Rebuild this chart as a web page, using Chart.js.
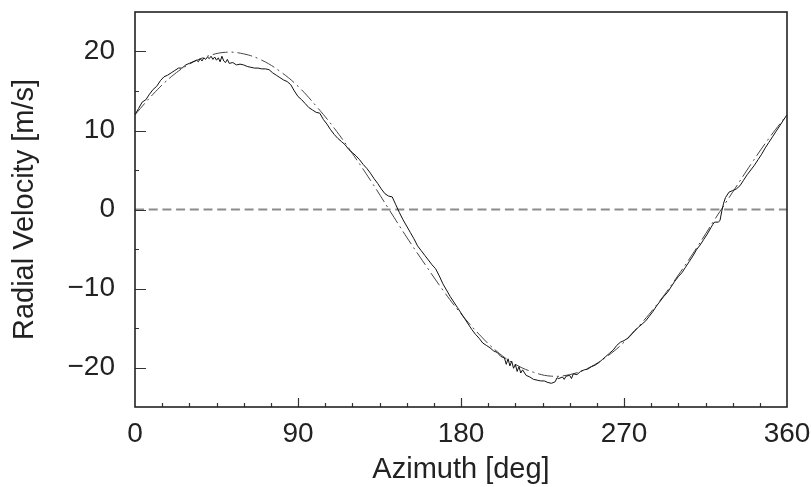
<!DOCTYPE html>
<html>
<head>
<meta charset="utf-8">
<script src="https://cdn.jsdelivr.net/npm/chart.js@4.4.0/dist/chart.umd.min.js"></script>
<style>
  html, body { margin: 0; padding: 0; background: #fff; }
  canvas { display: block; }
</style>
</head>
<body>
<canvas id="grafico" width="811" height="487"></canvas>
<script>
// Datos medidos: azimut [deg] y velocidad radial [m/s]
const azMedido = [
  0, 2, 4, 6, 8, 10, 12, 14, 16, 18,
  20, 22, 24, 26, 28, 30, 32, 34, 35, 36,
  37, 38, 39, 40, 41, 42, 43, 44, 45, 46,
  47, 48, 49, 50, 51, 52, 54, 56, 58, 60,
  62, 64, 66, 68, 70, 72, 74, 76, 78, 80,
  82, 84, 86, 88, 90, 92, 94, 96, 98, 100,
  102, 104, 106, 108, 110, 112, 114, 116, 118, 120,
  122, 124, 126, 128, 130, 132, 134, 136, 138, 140,
  142, 144, 146, 148, 150, 152, 154, 156, 158, 160,
  162, 164, 166, 168, 170, 172, 174, 176, 178, 180,
  182, 184, 186, 188, 190, 192, 194, 196, 198, 200,
  202, 204, 205, 206, 207, 208, 209, 210, 211, 212,
  213, 214, 216, 218, 220, 222, 224, 226, 228, 230,
  232, 233, 234, 236, 237, 238, 240, 241, 242, 244,
  246, 248, 250, 252, 254, 256, 258, 260, 262, 264,
  266, 268, 270, 272, 274, 276, 278, 280, 282, 284,
  286, 288, 290, 292, 294, 296, 298, 300, 302, 304,
  306, 308, 310, 312, 314, 316, 318, 319, 320, 322,
  323, 324, 325, 326, 328, 330, 332, 334, 336, 338,
  340, 342, 344, 346, 348, 350, 352, 354, 356, 358, 360
];
const velMedida = [
  12.0, 12.8, 13.6, 13.9, 14.6, 15.2, 15.6, 16.3, 16.8, 17.0,
  17.3, 17.6, 17.9, 17.9, 18.3, 18.5, 18.7, 18.9, 18.7, 19.1,
  18.8, 19.2, 19.0, 19.3, 19.1, 19.4, 19.0, 19.3, 18.9, 19.2,
  18.7, 19.4, 18.8, 18.6, 19.0, 18.5, 18.6, 18.3, 18.4, 18.3,
  18.1, 18.0, 17.9, 17.9, 17.8, 17.8, 17.7, 17.3, 17.0, 16.7,
  16.4, 16.2, 15.8, 15.0, 14.3, 13.9, 13.4, 12.9, 12.6, 12.3,
  12.2, 11.4, 10.8, 10.1, 9.5, 9.0, 8.6, 8.2, 7.6, 7.2,
  6.8, 6.3, 5.7, 5.2, 4.6, 3.9, 3.3, 2.6, 2.0, 1.7,
  1.6, 0.6, -0.4, -1.3, -2.1, -2.9, -3.7, -4.6, -5.2, -5.8,
  -6.4, -7.0, -7.5, -8.4, -9.4, -10.2, -11.0, -11.7, -12.4, -13.1,
  -13.8, -14.5, -15.2, -15.8, -16.3, -16.9, -17.2, -17.5, -17.9, -18.1,
  -18.6, -18.8, -19.6, -18.9, -19.8, -19.2, -20.1, -19.6, -20.5, -19.9,
  -20.7, -20.3, -21.0, -21.2, -21.5, -21.6, -21.7, -21.7, -21.9, -22.0,
  -21.8, -21.3, -21.4, -21.2, -21.5, -21.1, -21.0, -21.4, -20.8, -20.9,
  -20.5, -20.3, -20.2, -19.9, -19.7, -19.4, -19.0, -18.6, -18.2, -17.8,
  -17.2, -16.8, -16.6, -16.3, -15.8, -15.3, -14.9, -14.5, -14.1, -13.5,
  -12.9, -12.2, -11.6, -11.0, -10.5, -9.8, -9.1, -8.5, -8.0, -7.3,
  -6.6, -5.9, -5.1, -4.5, -3.8, -3.1, -2.3, -1.9, -1.6, -1.6,
  -1.4, -0.2, 0.8, 1.5, 2.2, 2.4, 2.6, 3.0, 3.7, 4.4,
  5.0, 5.6, 6.3, 7.0, 7.8, 8.5, 9.2, 9.9, 10.6, 11.3, 12.0
];

// Ajuste (línea punto-raya)
const azAjuste = [
  0, 10, 20, 30, 40, 50, 60, 70, 80, 90,
  100, 110, 120, 130, 140, 150, 160, 170, 180, 190,
  200, 210, 220, 230, 240, 250, 260, 270, 280, 290,
  300, 310, 320, 330, 340, 350, 360
];
const velAjuste = [
  12.0, 14.6, 16.8, 18.4, 19.4, 19.9, 19.7, 18.9, 17.5, 15.6,
  13.1, 10.3, 7.1, 3.7, 0.1, -3.5, -6.9, -10.2, -13.2, -15.8,
  -18.0, -19.6, -20.6, -21.1, -20.9, -20.1, -18.7, -16.8, -14.3, -11.5,
  -8.3, -4.9, -1.3, 2.2, 5.7, 9.0, 12.0
];

// Línea de referencia en cero
const azCero = [0, 360];
const velCero = [0, 0];

// Ticks de los ejes
const ticksX = [0, 90, 180, 270, 360];
const ticksY = [-20, -10, 0, 10, 20];

const fuente = "'Liberation Sans', Arial, Helvetica, sans-serif";

function aPuntos(xs, ys) {
  return xs.map((x, i) => ({ x: x, y: ys[i] }));
}

function formatoMenos(v) {
  return v < 0 ? "\u2212" + Math.abs(v) : String(v);
}

// Quitar el relleno automático de las escalas
function sinRelleno(scale) {
  scale.paddingTop = 0;
  scale.paddingBottom = 0;
  scale.paddingLeft = 0;
  scale.paddingRight = 0;
}

// Marco y ticks hacia adentro
const marcoTicks = {
  id: "marcoTicks",
  afterDraw(chart) {
    const { ctx, chartArea, scales } = chart;
    const { left, right, top, bottom } = chartArea;
    ctx.save();
    ctx.strokeStyle = "#333";
    ctx.lineWidth = 1.2;
    ctx.beginPath();
    for (let v = 15; v < 360; v += 15) {
      const px = Math.round(scales.x.getPixelForValue(v)) + 0.5;
      const largo = v % 90 === 0 ? 9 : 4;
      ctx.moveTo(px, bottom);
      ctx.lineTo(px, bottom - largo);
    }
    for (let v = -20; v <= 20; v += 5) {
      const py = Math.round(scales.y.getPixelForValue(v)) + 0.5;
      const largo = v % 10 === 0 ? 11 : 4;
      ctx.moveTo(left, py);
      ctx.lineTo(left + largo, py);
    }
    ctx.stroke();
    ctx.strokeStyle = "#222";
    ctx.lineWidth = 1.6;
    ctx.strokeRect(left, top, right - left, bottom - top);
    ctx.restore();
  }
};

const config = {
  type: "line",
  data: {
    datasets: [
      {
        label: "Medido",
        data: aPuntos(azMedido, velMedida),
        borderColor: "#111",
        borderWidth: 1,
        pointRadius: 0,
        tension: 0,
        order: 1
      },
      {
        label: "Ajuste",
        data: aPuntos(azAjuste, velAjuste),
        borderColor: "#444",
        borderWidth: 1,
        borderDash: [15, 4, 2, 4],
        pointRadius: 0,
        tension: 0.4,
        order: 2
      },
      {
        label: "Cero",
        data: aPuntos(azCero, velCero),
        borderColor: "#8c8c8c",
        borderWidth: 2,
        borderDash: [9, 4.7],
        pointRadius: 0,
        order: 3
      }
    ]
  },
  options: {
    responsive: false,
    animation: false,
    devicePixelRatio: 1,
    layout: { padding: { top: 12, right: 24, left: 0, bottom: 0 } },
    plugins: {
      legend: { display: false },
      tooltip: { enabled: false }
    },
    scales: {
      x: {
        type: "linear",
        min: 0,
        max: 360,
        afterBuildTicks: (scale) => { scale.ticks = ticksX.map(v => ({ value: v })); },
        afterFit: (scale) => { scale.height = 80; sinRelleno(scale); },
        grid: { display: false, drawTicks: false, tickLength: 0 },
        border: { display: false },
        ticks: {
          autoSkip: false,
          maxRotation: 0,
          padding: 10,
          color: "#222",
          font: { family: fuente, size: 28 },
          callback: (v) => formatoMenos(v)
        },
        title: {
          display: true,
          text: "Azimuth [deg]",
          color: "#222",
          padding: { top: 0, bottom: 0 },
          font: { family: fuente, size: 29 }
        }
      },
      y: {
        type: "linear",
        min: -25,
        max: 25,
        afterBuildTicks: (scale) => { scale.ticks = ticksY.map(v => ({ value: v })); },
        afterFit: (scale) => { scale.width = 135; sinRelleno(scale); },
        grid: { display: false, drawTicks: false, tickLength: 0 },
        border: { display: false },
        ticks: {
          padding: 20,
          color: "#222",
          font: { family: fuente, size: 28 },
          callback: (v) => formatoMenos(v)
        },
        title: {
          display: true,
          text: "Radial Velocity [m/s]",
          color: "#222",
          padding: { top: 8, bottom: 0 },
          font: { family: fuente, size: 29 }
        }
      }
    }
  },
  plugins: [marcoTicks]
};

new Chart(document.getElementById("grafico").getContext("2d"), config);
</script>
</body>
</html>
